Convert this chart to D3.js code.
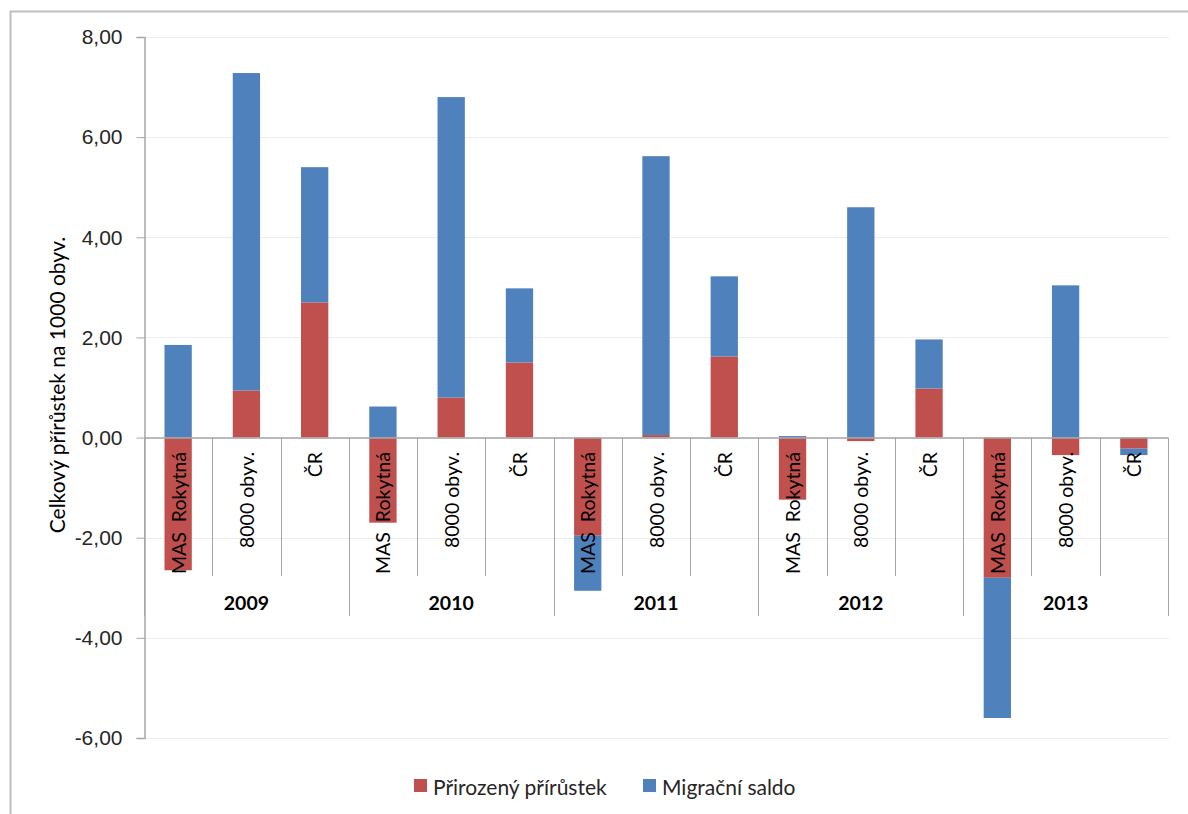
<!DOCTYPE html>
<html>
<head>
<meta charset="utf-8">
<script src="https://cdn.jsdelivr.net/npm/d3@7/dist/d3.min.js"></script>
<style>
  body { margin: 0; background: #fff; }
  svg { font-family: Lato, "Open Sans", sans-serif; }
</style>
</head>
<body>
<div id="chart"></div>
<script>
// Data
const years = ["2009", "2010", "2011", "2012", "2013"];
const units = ["MAS  Rokytná", "8000 obyv.", "ČR"];
const natural = [-2.65, 0.94, 2.70, -1.70, 0.80, 1.50, -1.96, 0.05, 1.62, -1.24, -0.07, 0.98, -2.80, -0.35, -0.22];
const migration = [1.85, 6.34, 2.70, 0.62, 6.00, 1.48, -1.10, 5.57, 1.60, 0.03, 4.60, 0.98, -2.80, 3.04, -0.13];
const yTicks = [-6, -4, -2, 0, 2, 4, 6, 8];
const seriesNames = ["Přirozený přírůstek", "Migrační saldo"];
const colors = ["#C0504D", "#4F81BD"];

const rows = [];
years.forEach((yr, gi) => units.forEach((u, ui) => {
    const i = gi * 3 + ui;
    rows.push({ id: i, year: yr, unit: u, natural: natural[i], migration: migration[i] });
}));

const width = 1188, height = 814;
const margin = { top: 37, right: 20, bottom: 76, left: 144 };
const plotRight = 1168;

const svg = d3.select("#chart").append("svg")
    .attr("width", width)
    .attr("height", height);

// outer frame
svg.append("rect")
    .attr("x", 10.5).attr("y", 11.5)
    .attr("width", width).attr("height", height)
    .attr("fill", "none")
    .attr("stroke", "#BFBFBF")
    .attr("stroke-width", 2);

const y = d3.scaleLinear()
    .domain([-6, 8])
    .range([738, 37]);

const x = d3.scaleBand()
    .domain(rows.map(d => d.id))
    .range([margin.left, plotRight])
    .paddingInner(0.6)
    .paddingOuter(0.3);

const xCat = d3.scaleBand()
    .domain(rows.map(d => d.id))
    .range([margin.left, plotRight]);

const xGroup = d3.scaleBand()
    .domain(years)
    .range([margin.left, plotRight]);

// gridlines
svg.append("g")
    .selectAll("line")
    .data(yTicks)
    .join("line")
    .attr("x1", margin.left).attr("x2", plotRight + 1)
    .attr("y1", d => Math.round(y(d)) + 0.5)
    .attr("y2", d => Math.round(y(d)) + 0.5)
    .attr("stroke", "#EDEDED")
    .attr("stroke-width", 1);

// y axis
const fmt = d3.format(".2f");
const yAxis = svg.append("g")
    .attr("transform", `translate(${margin.left + 0.5},0)`)
    .call(d3.axisLeft(y).tickValues(yTicks).tickSize(8).tickPadding(14)
        .tickFormat(d => fmt(d).replace(".", ",").replace("−", "-")));
yAxis.select(".domain").attr("stroke", "#A6A6A6").attr("stroke-width", 1.5);
yAxis.selectAll(".tick line").attr("stroke", "#A6A6A6");
yAxis.selectAll(".tick text")
    .attr("fill", "#262626")
    .attr("font-size", "21px");

// stacked bars
const stack = d3.stack()
    .keys(["natural", "migration"])
    .offset(d3.stackOffsetDiverging);
const series = stack(rows);

svg.append("g")
    .selectAll("g")
    .data(series)
    .join("g")
    .attr("fill", (d, i) => colors[i])
    .selectAll("rect")
    .data(d => d)
    .join("rect")
    .attr("x", d => x(d.data.id))
    .attr("width", x.bandwidth())
    .attr("y", d => y(Math.max(d[0], d[1])))
    .attr("height", d => Math.abs(y(d[0]) - y(d[1])));

// category axis line at zero
svg.append("line")
    .attr("x1", margin.left).attr("x2", plotRight)
    .attr("y1", y(0) + 0.5).attr("y2", y(0) + 0.5)
    .attr("stroke", "#A6A6A6")
    .attr("stroke-width", 1.5);

// separators between categories inside a group
const inner = rows.filter(d => d.id % 3 !== 0);
svg.append("g")
    .selectAll("line")
    .data(inner)
    .join("line")
    .attr("x1", d => Math.round(xCat(d.id)) + 0.5)
    .attr("x2", d => Math.round(xCat(d.id)) + 0.5)
    .attr("y1", y(0)).attr("y2", 576)
    .attr("stroke", "#A6A6A6");

// separators between years
svg.append("g")
    .selectAll("line")
    .data(years.concat(["end"]))
    .join("line")
    .attr("x1", d => d === "end" ? plotRight + 0.5 : Math.round(xGroup(d)) + 0.5)
    .attr("x2", d => d === "end" ? plotRight + 0.5 : Math.round(xGroup(d)) + 0.5)
    .attr("y1", y(0)).attr("y2", 616)
    .attr("stroke", "#A6A6A6");

// category labels
svg.append("g")
    .selectAll("text")
    .data(rows)
    .join("text")
    .attr("transform", d => `translate(${x(d.id) + x.bandwidth() / 2},452) rotate(-90)`)
    .attr("text-anchor", "end")
    .attr("dominant-baseline", "central")
    .attr("font-size", "19.5px")
    .attr("fill", "#000")
    .style("white-space", "pre")
    .text(d => d.unit);

// year labels
svg.append("g")
    .selectAll("text")
    .data(years)
    .join("text")
    .attr("x", d => xGroup(d) + xGroup.bandwidth() / 2)
    .attr("y", 610)
    .attr("text-anchor", "middle")
    .attr("font-size", "19.5px")
    .attr("font-weight", "bold")
    .attr("fill", "#000")
    .text(d => d);

// y axis title
svg.append("text")
    .attr("transform", "translate(56,385) rotate(-90)")
    .attr("text-anchor", "middle")
    .attr("dominant-baseline", "central")
    .attr("font-size", "21px")
    .attr("fill", "#000")
    .text("Celkový přírůstek na 1000 obyv.");

// legend
const legendX = [414, 643];
const legend = svg.append("g")
    .selectAll("g")
    .data(seriesNames)
    .join("g")
    .attr("transform", (d, i) => `translate(${legendX[i]},779)`);
legend.append("rect")
    .attr("width", 13).attr("height", 13)
    .attr("fill", (d, i) => colors[i]);
legend.append("text")
    .attr("x", 19).attr("y", 7)
    .attr("dominant-baseline", "central")
    .attr("font-size", "21px")
    .attr("fill", "#262626")
    .text(d => d);
</script>
</body>
</html>
